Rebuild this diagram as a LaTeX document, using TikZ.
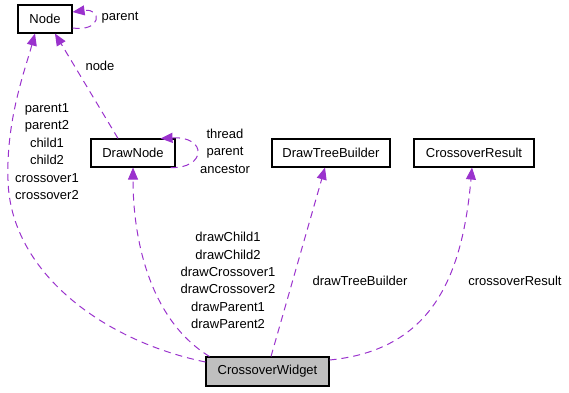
\documentclass[tikz,border=0pt]{standalone}
\usepackage{fontspec}
\setmainfont{Liberation Sans}
\usetikzlibrary{arrows.meta}
\definecolor{edgepurple}{RGB}{154,50,205}
\definecolor{boxgray}{RGB}{191,191,191}
\begin{document}
\begin{tikzpicture}[x=1pt,y=-1pt,
  every node/.style={font=\fontsize{13}{17.4}\selectfont, inner sep=0pt},
  classbox/.style={draw=black, line width=1.1pt, minimum height=28pt, fill=white},
  usage/.style={draw=edgepurple, line width=1pt, dash pattern=on 7pt off 5pt,
    -{Triangle[length=12pt,width=10pt]}},
  elabel/.style={align=center, text=black}]
  \useasboundingbox (0,0) rectangle (569,392);

  % classes
  \node[classbox, minimum width=54pt] (n) at (45,19) {Node};
  \node[classbox, minimum width=84pt] (dn) at (133,153) {DrawNode};
  \node[classbox, minimum width=118pt] (dtb) at (331,153) {DrawTreeBuilder};
  \node[classbox, minimum width=120pt] (cr) at (474,153) {CrossoverResult};
  \node[classbox, minimum width=123pt, minimum height=29pt, fill=boxgray] (cw) at (267.5,371.5) {CrossoverWidget};

  % Node -> Node (parent)
  \draw[usage] ([yshift=-9pt]n.east) .. controls (102,32) and (102,8) .. ([yshift=7pt]n.east);
  \node[elabel] (lparent) at (120,18) {parent};

  % DrawNode -> Node (node)
  \draw[usage] ([xshift=-15pt]dn.north) -- ([xshift=10pt]n.south);
  \node[elabel] (lnode) at (100,66) {node};

  % CrossoverWidget -> Node
  \draw[usage] ([yshift=9.5pt]cw.west) .. controls (100,340) and (10,270) .. (8,180)
     .. controls (6,120) and (25,70) .. ([xshift=-10pt]n.south);
  \node[elabel] (lnodes) at (47,151.5) {parent1\\parent2\\child1\\child2\\crossover1\\crossover2};

  % DrawNode -> DrawNode
  \draw[usage] ([xshift=-5pt]dn.south east) .. controls (206,169) and (208,136) .. ([xshift=-15pt]dn.north east);
  \node[elabel] (ldn) at (225,151) {thread\\parent\\ancestor};

  % CrossoverWidget -> DrawNode
  \draw[usage] ([xshift=4pt]cw.north west) .. controls (150,320) and (133,240) .. (dn.south);
  \node[elabel] (ldraw) at (228,280.5) {drawChild1\\drawChild2\\drawCrossover1\\drawCrossover2\\drawParent1\\drawParent2};

  % CrossoverWidget -> DrawTreeBuilder
  \draw[usage] ([xshift=3.5pt]cw.north) -- ([xshift=-6pt]dtb.south);
  \node[elabel] (ldtb) at (360,281) {drawTreeBuilder};

  % CrossoverWidget -> CrossoverResult
  \draw[usage] ([yshift=11.5pt]cw.east) .. controls (430,350) and (462,280) .. ([xshift=-2pt]cr.south);
  \node[elabel] (lcr) at (515,281) {crossoverResult};
\end{tikzpicture}
\end{document}
